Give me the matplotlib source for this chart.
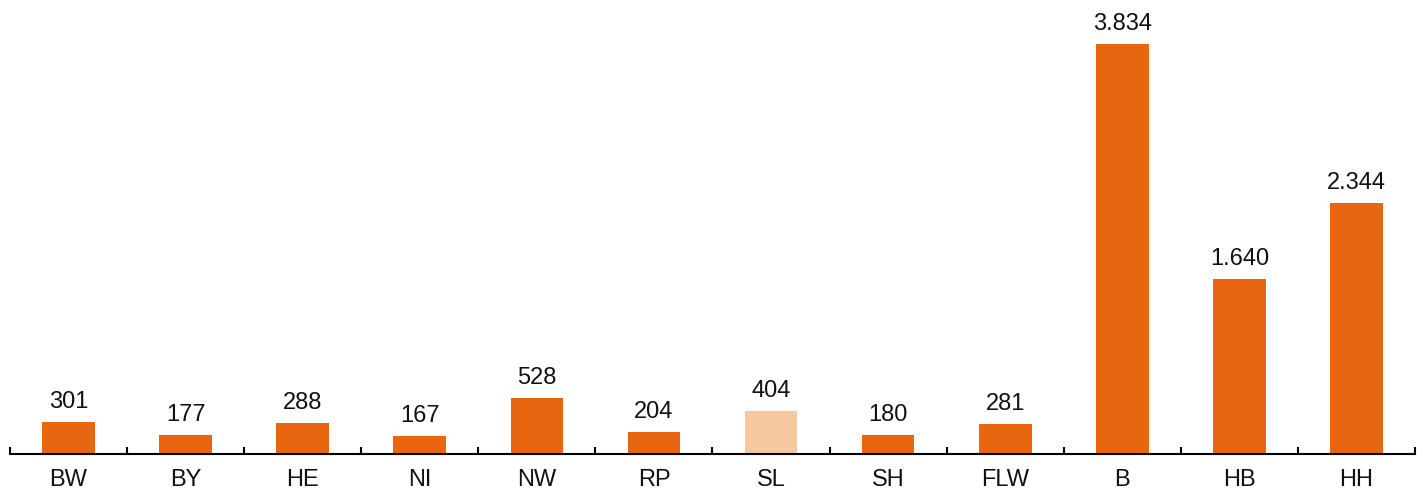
import numpy as np
import matplotlib.pyplot as plt

plt.rcParams['font.family'] = ['Liberation Sans', 'DejaVu Sans']

# data
states = ["BW", "BY", "HE", "NI", "NW", "RP", "SL", "SH", "FLW", "B", "HB", "HH"]
values = [301, 177, 288, 167, 528, 204, 404, 180, 281, 3834, 1640, 2344]
labels = ["301", "177", "288", "167", "528", "204", "404", "180", "281", "3.834", "1.640", "2.344"]
highlight = "SL"

orange = "#E8660F"
light = "#F7C8A0"
colors = [light if s == highlight else orange for s in states]

fig = plt.figure(figsize=(14.23, 4.93), dpi=100)
ax = fig.add_axes([10 / 1423, 39 / 493, 1405 / 1423, 454 / 493])

x = np.arange(len(states))
bars = ax.bar(x, values, width=0.45, color=colors, zorder=2)

for xi, v, lab in zip(x, values, labels):
    ax.annotate(lab, (xi, v), xytext=(0, 6.5), textcoords="offset points",
                ha="center", va="bottom", fontsize=17, color="#111111")

ax.set_xlim(-0.5, len(states) - 0.5)
ax.set_ylim(0, 3834 * 454 / 410)

ax.set_xticks(x)
ax.set_xticklabels(states, fontsize=17, color="#111111")
ax.tick_params(axis="x", which="major", length=0, pad=11)
ax.set_xticks(np.arange(-0.5, len(states)), minor=True)
ax.tick_params(axis="x", which="minor", direction="in", length=5, width=1.5, color="black")

ax.set_yticks([])
for side in ["left", "right", "top"]:
    ax.spines[side].set_visible(False)
ax.spines["bottom"].set_linewidth(1.5)
ax.spines["bottom"].set_zorder(3)

fig.savefig("out.png", dpi=100)
